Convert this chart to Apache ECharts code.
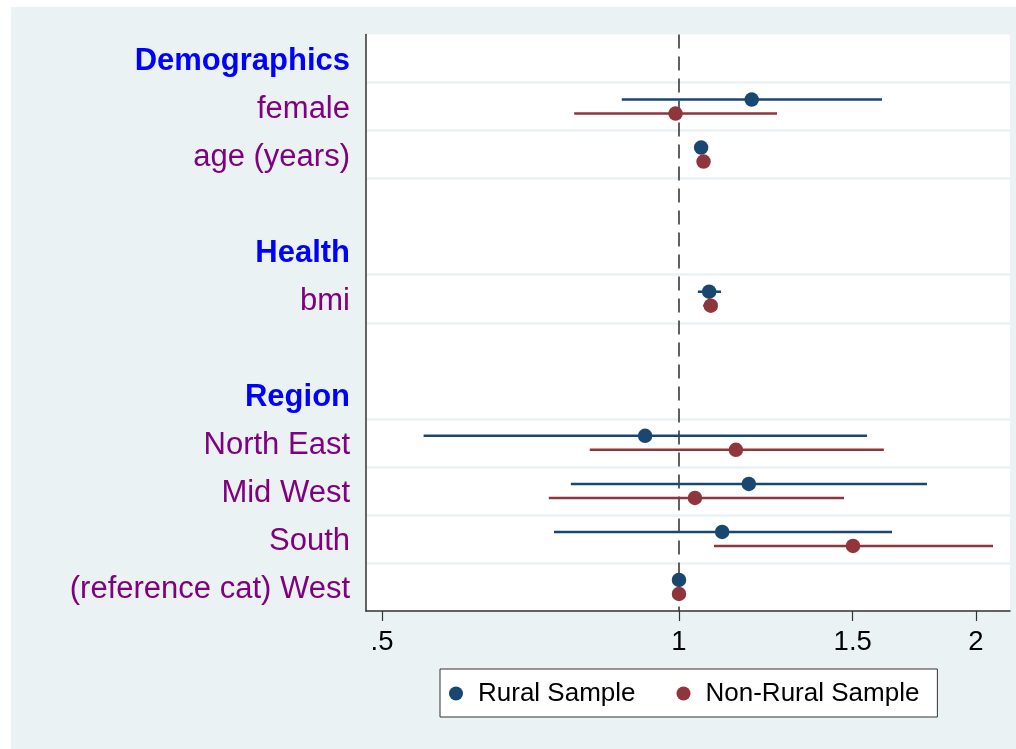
<!DOCTYPE html>
<html>
<head>
<meta charset="utf-8">
<script src="https://cdn.jsdelivr.net/npm/echarts@6/dist/echarts.min.js"></script>
<style>
  html, body { margin: 0; padding: 0; background: #ffffff; }
  #c { position: absolute; left: 11px; top: 7px; width: 1005px; height: 742px; background: #EAF2F3; }
</style>
</head>
<body>
<div id="c"></div>
<script>
// ---- data ----
const rowLabels = ['Demographics', 'female', 'age (years)', ' ', 'Health', 'bmi', '  ', 'Region',
                   'North East', 'Mid West', 'South', '(reference cat) West'];
const headerLabels = ['Demographics', 'Health', 'Region'];
const coefRows = ['female', 'age (years)', 'bmi', 'North East', 'Mid West', 'South', '(reference cat) West'];

const ruralEst = [1.185, 1.053, 1.073, 0.924, 1.177, 1.106, 1.000];
const ruralLo  = [0.875, 1.049, 1.045, 0.551, 0.777, 0.747, 1.000];
const ruralHi  = [1.606, 1.057, 1.103, 1.551, 1.784, 1.644, 1.000];

const nonRuralEst = [0.992, 1.059, 1.077, 1.142, 1.038, 1.501, 1.000];
const nonRuralLo  = [0.783, 1.055, 1.058, 0.812, 0.738, 1.085, 1.000];
const nonRuralHi  = [1.257, 1.063, 1.093, 1.613, 1.470, 2.081, 1.000];

const tickValues = [0.5, 1, 1.5, 2];
const tickLabels = ['.5', '1', '1.5', '2'];
const axisRange = [0.4817, 2.1652];
const refValue = 1;

// ---- build ----
const FONT = "'Liberation Sans', Arial, Helvetica, sans-serif";
const BLUE = '#1a476f';
const RED = '#90353b';
const ln = Math.log;

function rowIndex(name) { return rowLabels.indexOf(name); }

function pointData(est) {
  return coefRows.map((r, i) => [ln(est[i]), rowIndex(r)]);
}
function ciData(lo, hi) {
  return coefRows.map((r, i) => [ln(lo[i]), ln(hi[i]), rowIndex(r)]);
}
function ciRenderer(color, off) {
  return function (params, api) {
    const y = api.value(2);
    const a = api.coord([api.value(0), y]);
    const b = api.coord([api.value(1), y]);
    return {
      type: 'line',
      shape: { x1: a[0], y1: a[1] + off, x2: b[0], y2: b[1] + off },
      style: { stroke: color, lineWidth: 2.5 }
    };
  };
}

const gridKeep = [1, 2, 3, 5, 6, 8, 9, 10, 11];

const chart = echarts.init(document.getElementById('c'), null, { renderer: 'canvas' });
chart.setOption({
  backgroundColor: 'transparent',
  animation: false,
  textStyle: { fontFamily: FONT },
  grid: {
    left: 355, right: 6, top: 27.5, bottom: 138,
    show: true, backgroundColor: '#ffffff', borderWidth: 0
  },
  legend: {
    data: ['Rural Sample', 'Non-Rural Sample'],
    left: 429, top: 662,
    orient: 'horizontal',
    icon: 'circle',
    itemWidth: 34, itemHeight: 14, itemGap: 41,
    padding: [11, 18, 10, 9],
    backgroundColor: '#ffffff',
    borderColor: '#333333', borderWidth: 1,
    textStyle: { fontSize: 26, color: '#000000', fontFamily: FONT, lineHeight: 27 }
  },
  xAxis: {
    type: 'value',
    min: ln(axisRange[0]), max: ln(axisRange[1]),
    axisLine: { show: true, onZero: false, lineStyle: { color: '#333333', width: 1.5 } },
    axisTick: { show: true, length: 10, customValues: tickValues.map(ln), lineStyle: { color: '#333333', width: 1.2 } },
    axisLabel: {
      customValues: tickValues.map(ln),
      fontSize: 27.5, color: '#000000', margin: 17, fontFamily: FONT,
      formatter: function (v) {
        let best = 0;
        tickValues.forEach((t, i) => { if (Math.abs(ln(t) - v) < Math.abs(ln(tickValues[best]) - v)) best = i; });
        return tickLabels[best];
      }
    },
    splitLine: { show: false }
  },
  yAxis: {
    type: 'category',
    data: rowLabels,
    inverse: true,
    boundaryGap: true,
    axisLine: { show: true, onZero: false, lineStyle: { color: '#333333', width: 1.5 } },
    axisTick: { show: false },
    axisLabel: {
      interval: 0, margin: 16,
      formatter: function (v) {
        if (!v.trim()) return '';
        return headerLabels.indexOf(v) >= 0 ? '{h|' + v + '}' : '{n|' + v + '}';
      },
      rich: {
        h: { fontSize: 31, fontWeight: 'bold', color: '#0000ff', fontFamily: FONT, padding: [5, 0, 0, 0] },
        n: { fontSize: 31, color: '#800080', fontFamily: FONT, padding: [5, 0, 0, 0] }
      }
    },
    splitLine: {
      show: true,
      interval: function (index) { return gridKeep.indexOf(index) >= 0; },
      lineStyle: { color: '#EAF2F3', width: 2.5 }
    }
  },
  series: [
    {
      name: 'ciRural', type: 'custom', renderItem: ciRenderer(BLUE, -7),
      encode: { x: [0, 1], y: 2 }, data: ciData(ruralLo, ruralHi), z: 2
    },
    {
      name: 'ciNonRural', type: 'custom', renderItem: ciRenderer(RED, 7),
      encode: { x: [0, 1], y: 2 }, data: ciData(nonRuralLo, nonRuralHi), z: 2
    },
    {
      name: 'Rural Sample', type: 'scatter', symbol: 'circle', symbolSize: 14.5,
      symbolOffset: [0, -7], itemStyle: { color: BLUE, opacity: 1 },
      data: pointData(ruralEst), z: 4,
      markLine: {
        silent: true, symbol: 'none', label: { show: false }, z: 1,
        lineStyle: { type: [14, 8], color: '#3a3a3a', width: 1.6 },
        data: [{ xAxis: ln(refValue) }]
      }
    },
    {
      name: 'Non-Rural Sample', type: 'scatter', symbol: 'circle', symbolSize: 14.5,
      symbolOffset: [0, 7], itemStyle: { color: RED, opacity: 1 },
      data: pointData(nonRuralEst), z: 4
    }
  ]
});
</script>
</body>
</html>
